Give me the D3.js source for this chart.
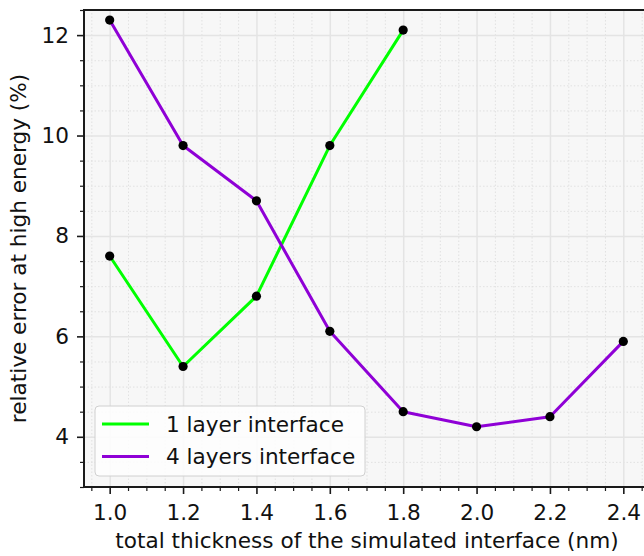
<!DOCTYPE html>
<html>
<head>
<meta charset="utf-8">
<script src="https://cdn.jsdelivr.net/npm/d3@7"></script>
<style>
  body { margin: 0; background: #fff; }
  svg { display: block; font-family: "DejaVu Sans", sans-serif; }
</style>
</head>
<body>
<svg id="chart" width="644" height="556"></svg>
<script>
// datos
const thickness1 = [1.0, 1.2, 1.4, 1.6, 1.8];
const oneLayer = [7.6, 5.4, 6.8, 9.8, 12.1];
const thickness4 = [1.0, 1.2, 1.4, 1.6, 1.8, 2.0, 2.2, 2.4];
const fourLayers = [12.3, 9.8, 8.7, 6.1, 4.5, 4.2, 4.4, 5.9];
const xTicks = [1.0, 1.2, 1.4, 1.6, 1.8, 2.0, 2.2, 2.4];
const yTicks = [4, 6, 8, 10, 12];
const seriesNames = ["1 layer interface", "4 layers interface"];
const seriesColors = ["#00ff00", "#8f00d6"];

const svg = d3.select("#chart");
const mLeft = 84, mTop = 10, mRight = 649, mBottom = 487;
const fs = 21.6;

const x = d3.scaleLinear().domain([0.93, 2.47]).range([mLeft, mRight]);
const y = d3.scaleLinear().domain([3, 12.5]).range([mBottom, mTop]);

const xMinor = d3.range(19, 50).map(d => d * 0.05).filter(d => Math.abs(d * 5 - Math.round(d * 5)) > 1e-6);
const yMinor = d3.range(6, 26).map(d => d * 0.5).filter(d => d % 2 !== 0);

// fondo del area
svg.append("rect")
    .attr("x", mLeft).attr("y", mTop)
    .attr("width", mRight - mLeft).attr("height", mBottom - mTop)
    .attr("fill", "#f7f7f7");

// rejilla menor (punteada)
svg.append("g")
    .attr("transform", `translate(0, ${mBottom})`)
    .call(d3.axisBottom(x).tickValues(xMinor).tickSize(-(mBottom - mTop)).tickFormat(""))
    .call(g => g.select(".domain").remove())
    .selectAll("line").attr("stroke", "#dcdcdc").attr("stroke-dasharray", "1.5,2").attr("stroke-width", 0.8);
svg.append("g")
    .attr("transform", `translate(${mLeft}, 0)`)
    .call(d3.axisLeft(y).tickValues(yMinor).tickSize(-(mRight - mLeft)).tickFormat(""))
    .call(g => g.select(".domain").remove())
    .selectAll("line").attr("stroke", "#dcdcdc").attr("stroke-dasharray", "1.5,2").attr("stroke-width", 0.8);

// rejilla mayor
svg.append("g")
    .attr("transform", `translate(0, ${mBottom})`)
    .call(d3.axisBottom(x).tickValues(xTicks).tickSize(-(mBottom - mTop)).tickFormat(""))
    .call(g => g.select(".domain").remove())
    .selectAll("line").attr("stroke", "#e4e4e4").attr("stroke-width", 1.5);
svg.append("g")
    .attr("transform", `translate(${mLeft}, 0)`)
    .call(d3.axisLeft(y).tickValues(yTicks).tickSize(-(mRight - mLeft)).tickFormat(""))
    .call(g => g.select(".domain").remove())
    .selectAll("line").attr("stroke", "#e4e4e4").attr("stroke-width", 1.5);

// lineas de datos
const series = [
    { xs: thickness1, ys: oneLayer },
    { xs: thickness4, ys: fourLayers }
];
const line = d3.line().x(d => x(d[0])).y(d => y(d[1]));
series.forEach((s, i) => {
    const pts = s.xs.map((v, j) => [v, s.ys[j]]);
    svg.append("path")
        .datum(pts)
        .attr("d", line)
        .attr("fill", "none")
        .attr("stroke", seriesColors[i])
        .attr("stroke-width", 3)
        .attr("stroke-linejoin", "round");
});
series.forEach(s => {
    const pts = s.xs.map((v, j) => [v, s.ys[j]]);
    svg.selectAll(null)
        .data(pts)
        .enter()
        .append("circle")
        .attr("cx", d => x(d[0]))
        .attr("cy", d => y(d[1]))
        .attr("r", 4.6)
        .attr("fill", "#000");
});

// bordes
svg.append("rect")
    .attr("x", mLeft).attr("y", mTop)
    .attr("width", mRight - mLeft).attr("height", mBottom - mTop)
    .attr("fill", "none").attr("stroke", "#1a1a1a").attr("stroke-width", 2);

// ejes con marcas
const xAxis = svg.append("g")
    .attr("transform", `translate(0, ${mBottom})`)
    .call(d3.axisBottom(x).tickValues(xTicks).tickSize(7).tickPadding(11).tickFormat(d3.format(".1f")));
xAxis.select(".domain").remove();
xAxis.selectAll("line").attr("stroke", "#1a1a1a").attr("stroke-width", 1.6);
xAxis.selectAll("text").attr("font-size", fs).attr("fill", "#111").attr("font-family", "DejaVu Sans");

const xAxisMinor = svg.append("g")
    .attr("transform", `translate(0, ${mBottom})`)
    .call(d3.axisBottom(x).tickValues(xMinor).tickSize(4).tickFormat(""));
xAxisMinor.select(".domain").remove();
xAxisMinor.selectAll("line").attr("stroke", "#1a1a1a").attr("stroke-width", 1.2);

const yAxis = svg.append("g")
    .attr("transform", `translate(${mLeft}, 0)`)
    .call(d3.axisLeft(y).tickValues(yTicks).tickSize(7).tickPadding(8));
yAxis.select(".domain").remove();
yAxis.selectAll("line").attr("stroke", "#1a1a1a").attr("stroke-width", 1.6);
yAxis.selectAll("text").attr("font-size", fs).attr("fill", "#111").attr("font-family", "DejaVu Sans");

const yAxisMinor = svg.append("g")
    .attr("transform", `translate(${mLeft}, 0)`)
    .call(d3.axisLeft(y).tickValues(yMinor).tickSize(4).tickFormat(""));
yAxisMinor.select(".domain").remove();
yAxisMinor.selectAll("line").attr("stroke", "#1a1a1a").attr("stroke-width", 1.2);

// etiquetas de ejes
svg.append("text")
    .attr("x", 367)
    .attr("y", 548)
    .attr("text-anchor", "middle")
    .attr("font-size", fs)
    .attr("fill", "#111")
    .text("total thickness of the simulated interface (nm)");

svg.append("text")
    .attr("transform", `translate(26, ${(mTop + mBottom) / 2}) rotate(-90)`)
    .attr("text-anchor", "middle")
    .attr("font-size", fs)
    .attr("fill", "#111")
    .text("relative error at high energy (%)");

// leyenda
const legend = svg.append("g");
legend.append("rect")
    .attr("x", 95).attr("y", 406)
    .attr("width", 270).attr("height", 70)
    .attr("rx", 4)
    .attr("fill", "#fdfdfd").attr("fill-opacity", 0.9)
    .attr("stroke", "#d0d0d0").attr("stroke-width", 1);
seriesNames.forEach((name, i) => {
    const ly = 424 + i * 32.5;
    legend.append("line")
        .attr("x1", 102).attr("x2", 149)
        .attr("y1", ly).attr("y2", ly)
        .attr("stroke", seriesColors[i]).attr("stroke-width", 3);
    legend.append("text")
        .attr("x", 166).attr("y", ly)
        .attr("dy", "0.36em")
        .attr("font-size", fs)
        .attr("fill", "#111")
        .text(name);
});
</script>
</body>
</html>
